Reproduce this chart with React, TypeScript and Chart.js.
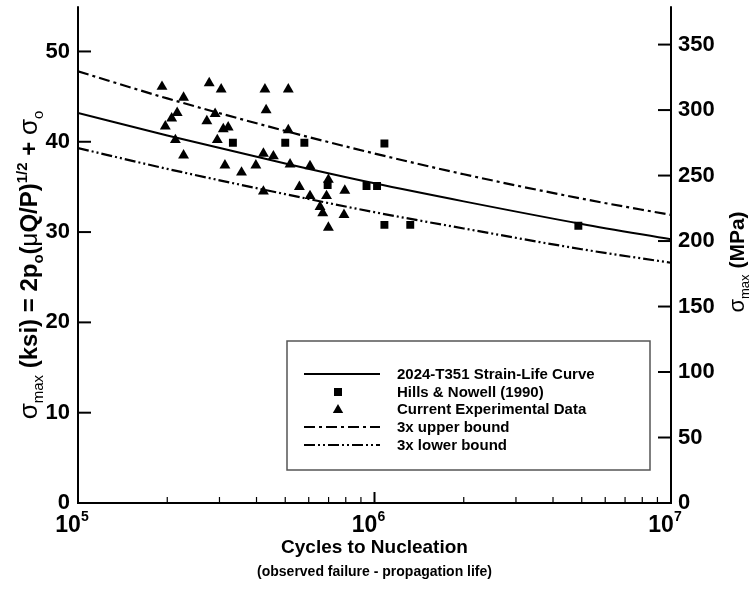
import React, { useEffect, useRef } from "react";
import { Chart, registerables } from "chart.js";

Chart.register(...registerables);

const FONT = "'Liberation Sans', Arial, Helvetica, sans-serif";
const KSI_TO_MPA = 6.895;

// Curves (cycles, ksi)
const curveCycles = [1e5, 2e5, 5e5, 1e6, 2e6, 5e6, 1e7];
const strainLifeKsi = [43.2, 40.7, 37.6, 35.4, 33.4, 30.9, 29.2];
const upperBoundKsi = [47.8, 44.8, 41.2, 38.7, 36.4, 33.7, 31.9];
const lowerBoundKsi = [39.3, 37.0, 34.2, 32.2, 30.4, 28.1, 26.6];

// Hills & Nowell (1990)
const hillsCycles = [3.33e5, 5.0e5, 5.8e5, 6.95e5, 9.4e5, 1.02e6, 1.08e6, 1.08e6, 1.32e6, 4.87e6];
const hillsKsi = [39.9, 39.9, 39.9, 35.2, 35.1, 35.1, 39.8, 30.8, 30.8, 30.7];

// Current experimental data
const currentCycles = [
  1.92e5, 2.77e5, 3.04e5, 4.27e5, 5.12e5, 2.27e5, 4.31e5, 2.16e5, 2.9e5, 2.07e5,
  2.72e5, 1.97e5, 3.09e5, 3.21e5, 5.12e5, 2.13e5, 2.95e5, 2.27e5, 4.22e5, 4.56e5,
  3.13e5, 3.98e5, 5.19e5, 6.06e5, 3.56e5, 6.99e5, 5.58e5, 4.22e5, 6.06e5, 6.89e5,
  7.94e5, 6.55e5, 6.69e5, 7.89e5, 6.99e5,
];
const currentKsi = [
  46.1, 46.5, 45.8, 45.8, 45.8, 44.9, 43.5, 43.2, 43.1, 42.6,
  42.3, 41.7, 41.4, 41.6, 41.3, 40.2, 40.2, 38.5, 38.7, 38.4,
  37.4, 37.4, 37.5, 37.3, 36.6, 35.8, 35.0, 34.5, 34.0, 34.0,
  34.6, 32.8, 32.1, 31.9, 30.5,
];

const ksiTicks = [0, 10, 20, 30, 40, 50];
const mpaTicks = [0, 50, 100, 150, 200, 250, 300, 350];
const decadeTicks = [1e5, 1e6, 1e7];
const decadeExponents = ["5", "6", "7"];
const minorMultipliers = [2, 3, 4, 5, 6, 7, 8, 9];

const legendLabels = [
  "2024-T351 Strain-Life Curve",
  "Hills & Nowell (1990)",
  "Current Experimental Data",
  "3x upper bound",
  "3x lower bound",
];

const UPPER_DASH = [11, 4, 3, 4];
const LOWER_DASH = [11, 3, 2, 3, 2, 3];

type Seg = { t: string; size: number; bold?: boolean; dy?: number };

function fontOf(s: Seg) {
  return `${s.bold ? "bold " : ""}${s.size}px ${FONT}`;
}

function drawRich(ctx: CanvasRenderingContext2D, segs: Seg[], x: number, y: number, align: "center" | "left") {
  let total = 0;
  for (const s of segs) {
    ctx.font = fontOf(s);
    total += ctx.measureText(s.t).width;
  }
  let cx = align === "center" ? x - total / 2 : x;
  ctx.textAlign = "left";
  ctx.textBaseline = "alphabetic";
  for (const s of segs) {
    ctx.font = fontOf(s);
    ctx.fillText(s.t, cx, y + (s.dy || 0));
    cx += ctx.measureText(s.t).width;
  }
}

function drawTriangle(ctx: CanvasRenderingContext2D, x: number, y: number, r: number) {
  ctx.beginPath();
  for (let i = 0; i < 3; i++) {
    const a = -Math.PI / 2 + (i * 2 * Math.PI) / 3;
    const px = x + r * Math.cos(a);
    const py = y + r * Math.sin(a);
    if (i === 0) ctx.moveTo(px, py);
    else ctx.lineTo(px, py);
  }
  ctx.closePath();
  ctx.fill();
}

const decorPlugin = {
  id: "decor",
  afterDraw(chart: any) {
    const ctx: CanvasRenderingContext2D = chart.ctx;
    const xs = chart.scales.x;
    const ys = chart.scales.y;
    const y1 = chart.scales.y1;
    const { left, right, top, bottom } = chart.chartArea;
    ctx.save();
    ctx.strokeStyle = "#000";
    ctx.fillStyle = "#000";
    ctx.lineWidth = 2;
    ctx.setLineDash([]);
    // axes
    ctx.beginPath();
    ctx.moveTo(left, top);
    ctx.lineTo(left, bottom);
    ctx.lineTo(right, bottom);
    ctx.lineTo(right, top);
    ctx.stroke();
    // y ticks (inward)
    for (const v of ksiTicks) {
      if (v === 0) continue;
      const py = ys.getPixelForValue(v);
      ctx.beginPath();
      ctx.moveTo(left, py);
      ctx.lineTo(left + 13, py);
      ctx.stroke();
    }
    for (const v of mpaTicks) {
      if (v === 0) continue;
      const py = y1.getPixelForValue(v);
      ctx.beginPath();
      ctx.moveTo(right, py);
      ctx.lineTo(right - 13, py);
      ctx.stroke();
    }
    // x ticks
    ctx.lineWidth = 1.2;
    for (let d = 0; d < decadeTicks.length - 1; d++) {
      for (const m of minorMultipliers) {
        const px = xs.getPixelForValue(decadeTicks[d] * m);
        ctx.beginPath();
        ctx.moveTo(px, bottom);
        ctx.lineTo(px, bottom - 6);
        ctx.stroke();
      }
    }
    ctx.lineWidth = 2;
    const p6 = xs.getPixelForValue(1e6);
    ctx.beginPath();
    ctx.moveTo(p6, bottom);
    ctx.lineTo(p6, bottom - 11);
    ctx.stroke();

    // x tick labels
    decadeTicks.forEach((v, i) => {
      const px = xs.getPixelForValue(v);
      drawRich(
        ctx,
        [
          { t: "10", size: 23, bold: true },
          { t: decadeExponents[i], size: 14, bold: true, dy: -11 },
        ],
        px - 6,
        532,
        "center"
      );
    });

    // x titles
    drawRich(ctx, [{ t: "Cycles to Nucleation", size: 19, bold: true }], (left + right) / 2, 553, "center");
    drawRich(ctx, [{ t: "(observed failure - propagation life)", size: 14, bold: true }], (left + right) / 2, 576, "center");

    // left title
    ctx.save();
    ctx.translate(37, 265);
    ctx.rotate(-Math.PI / 2);
    drawRich(
      ctx,
      [
        { t: "σ", size: 26 },
        { t: "max", size: 15, dy: 6 },
        { t: " (ksi) = 2p", size: 24, bold: true },
        { t: "o", size: 15, bold: true, dy: 6 },
        { t: "(", size: 24, bold: true },
        { t: "μ", size: 24 },
        { t: "Q/P)", size: 24, bold: true },
        { t: "1/2", size: 15, bold: true, dy: -10 },
        { t: " + ", size: 24, bold: true },
        { t: "σ", size: 26 },
        { t: "o", size: 15, dy: 6 },
      ],
      0,
      0,
      "center"
    );
    ctx.restore();

    // right title
    ctx.save();
    ctx.translate(744, 262);
    ctx.rotate(-Math.PI / 2);
    drawRich(
      ctx,
      [
        { t: "σ", size: 22 },
        { t: "max", size: 13, dy: 5 },
        { t: " (MPa)", size: 21, bold: true },
      ],
      0,
      0,
      "center"
    );
    ctx.restore();

    // legend
    const bx = 287, by = 341, bw = 363, bh = 129;
    ctx.lineWidth = 1.5;
    ctx.strokeStyle = "#555";
    ctx.strokeRect(bx, by, bw, bh);
    const rows = [374, 392, 409, 427, 445];
    const lx0 = 304, lx1 = 380, tx = 397;
    const ds = chart.data.datasets;
    ctx.strokeStyle = "#000";
    ctx.fillStyle = "#000";
    ds.forEach((d: any, i: number) => {
      const ry = rows[i];
      if (d.pointStyle === "rect") {
        ctx.fillRect(lx1 - 42 - 4, ry - 4, 8, 8);
      } else if (d.pointStyle === "triangle") {
        drawTriangle(ctx, lx1 - 42, ry + 1, 6);
      } else {
        ctx.lineWidth = d.borderWidth;
        ctx.setLineDash(d.borderDash || []);
        ctx.beginPath();
        ctx.moveTo(lx0, ry);
        ctx.lineTo(lx1, ry);
        ctx.stroke();
        ctx.setLineDash([]);
      }
      ctx.font = `bold 15px ${FONT}`;
      ctx.textAlign = "left";
      ctx.textBaseline = "middle";
      ctx.fillText(d.label, tx, ry + 1);
    });
    ctx.restore();
  },
};

export default function App() {
  const ref = useRef<HTMLCanvasElement | null>(null);
  useEffect(() => {
    document.body.style.margin = "0";
    const canvas = ref.current!;
    const pts = (xs: number[], ys: number[]) => xs.map((x, i) => ({ x, y: ys[i] }));
    const tickFont = { size: 22, weight: "bold" as const, family: FONT };
    const chart = new Chart(canvas, {
      type: "scatter",
      data: {
        datasets: [
          {
            label: legendLabels[0],
            data: pts(curveCycles, strainLifeKsi),
            showLine: true,
            borderColor: "#000",
            borderWidth: 2,
            pointRadius: 0,
            cubicInterpolationMode: "monotone",
            yAxisID: "y",
          },
          {
            label: legendLabels[1],
            data: pts(hillsCycles, hillsKsi),
            showLine: false,
            pointStyle: "rect",
            pointRadius: 5.6,
            backgroundColor: "#000",
            borderColor: "#000",
            borderWidth: 0,
            yAxisID: "y",
          },
          {
            label: legendLabels[2],
            data: pts(currentCycles, currentKsi),
            showLine: false,
            pointStyle: "triangle",
            pointRadius: 6.3,
            backgroundColor: "#000",
            borderColor: "#000",
            borderWidth: 0,
            yAxisID: "y",
          },
          {
            label: legendLabels[3],
            data: pts(curveCycles, upperBoundKsi),
            showLine: true,
            borderColor: "#000",
            borderWidth: 2.2,
            borderDash: UPPER_DASH,
            pointRadius: 0,
            cubicInterpolationMode: "monotone",
            yAxisID: "y",
          },
          {
            label: legendLabels[4],
            data: pts(curveCycles, lowerBoundKsi),
            showLine: true,
            borderColor: "#000",
            borderWidth: 2.2,
            borderDash: LOWER_DASH,
            pointRadius: 0,
            cubicInterpolationMode: "monotone",
            yAxisID: "y",
          },
        ] as any,
      },
      options: {
        animation: false,
        responsive: false,
        maintainAspectRatio: false,
        layout: { padding: { top: 6, left: 0, right: 0, bottom: 0 } },
        plugins: { legend: { display: false }, tooltip: { enabled: false } },
        scales: {
          x: {
            type: "logarithmic",
            min: 1e5,
            max: 1e7,
            grid: { display: false, drawTicks: false },
            border: { display: false },
            ticks: { display: false },
            afterFit: (s: any) => {
              s.height = 87;
              s.paddingLeft = 0;
              s.paddingRight = 0;
            },
          },
          y: {
            type: "linear",
            position: "left",
            min: 0,
            max: 55,
            grid: { display: false, drawTicks: false },
            border: { display: false },
            ticks: { stepSize: 10, includeBounds: false, color: "#000", font: tickFont, padding: 8 },
            afterFit: (s: any) => {
              s.width = 78;
              s.paddingTop = 0;
              s.paddingBottom = 0;
            },
          },
          y1: {
            type: "linear",
            position: "right",
            min: 0,
            max: 55 * KSI_TO_MPA,
            grid: { display: false, drawTicks: false },
            border: { display: false },
            ticks: { stepSize: 50, includeBounds: false, color: "#000", font: tickFont, padding: 7 },
            afterFit: (s: any) => {
              s.width = 81;
              s.paddingTop = 0;
              s.paddingBottom = 0;
            },
          },
        },
      } as any,
      plugins: [decorPlugin],
    });
    return () => chart.destroy();
  }, []);
  return (
    <div style={{ width: 752, height: 590, background: "#fff" }}>
      <canvas ref={ref} width={752} height={590} style={{ display: "block" }} />
    </div>
  );
}
